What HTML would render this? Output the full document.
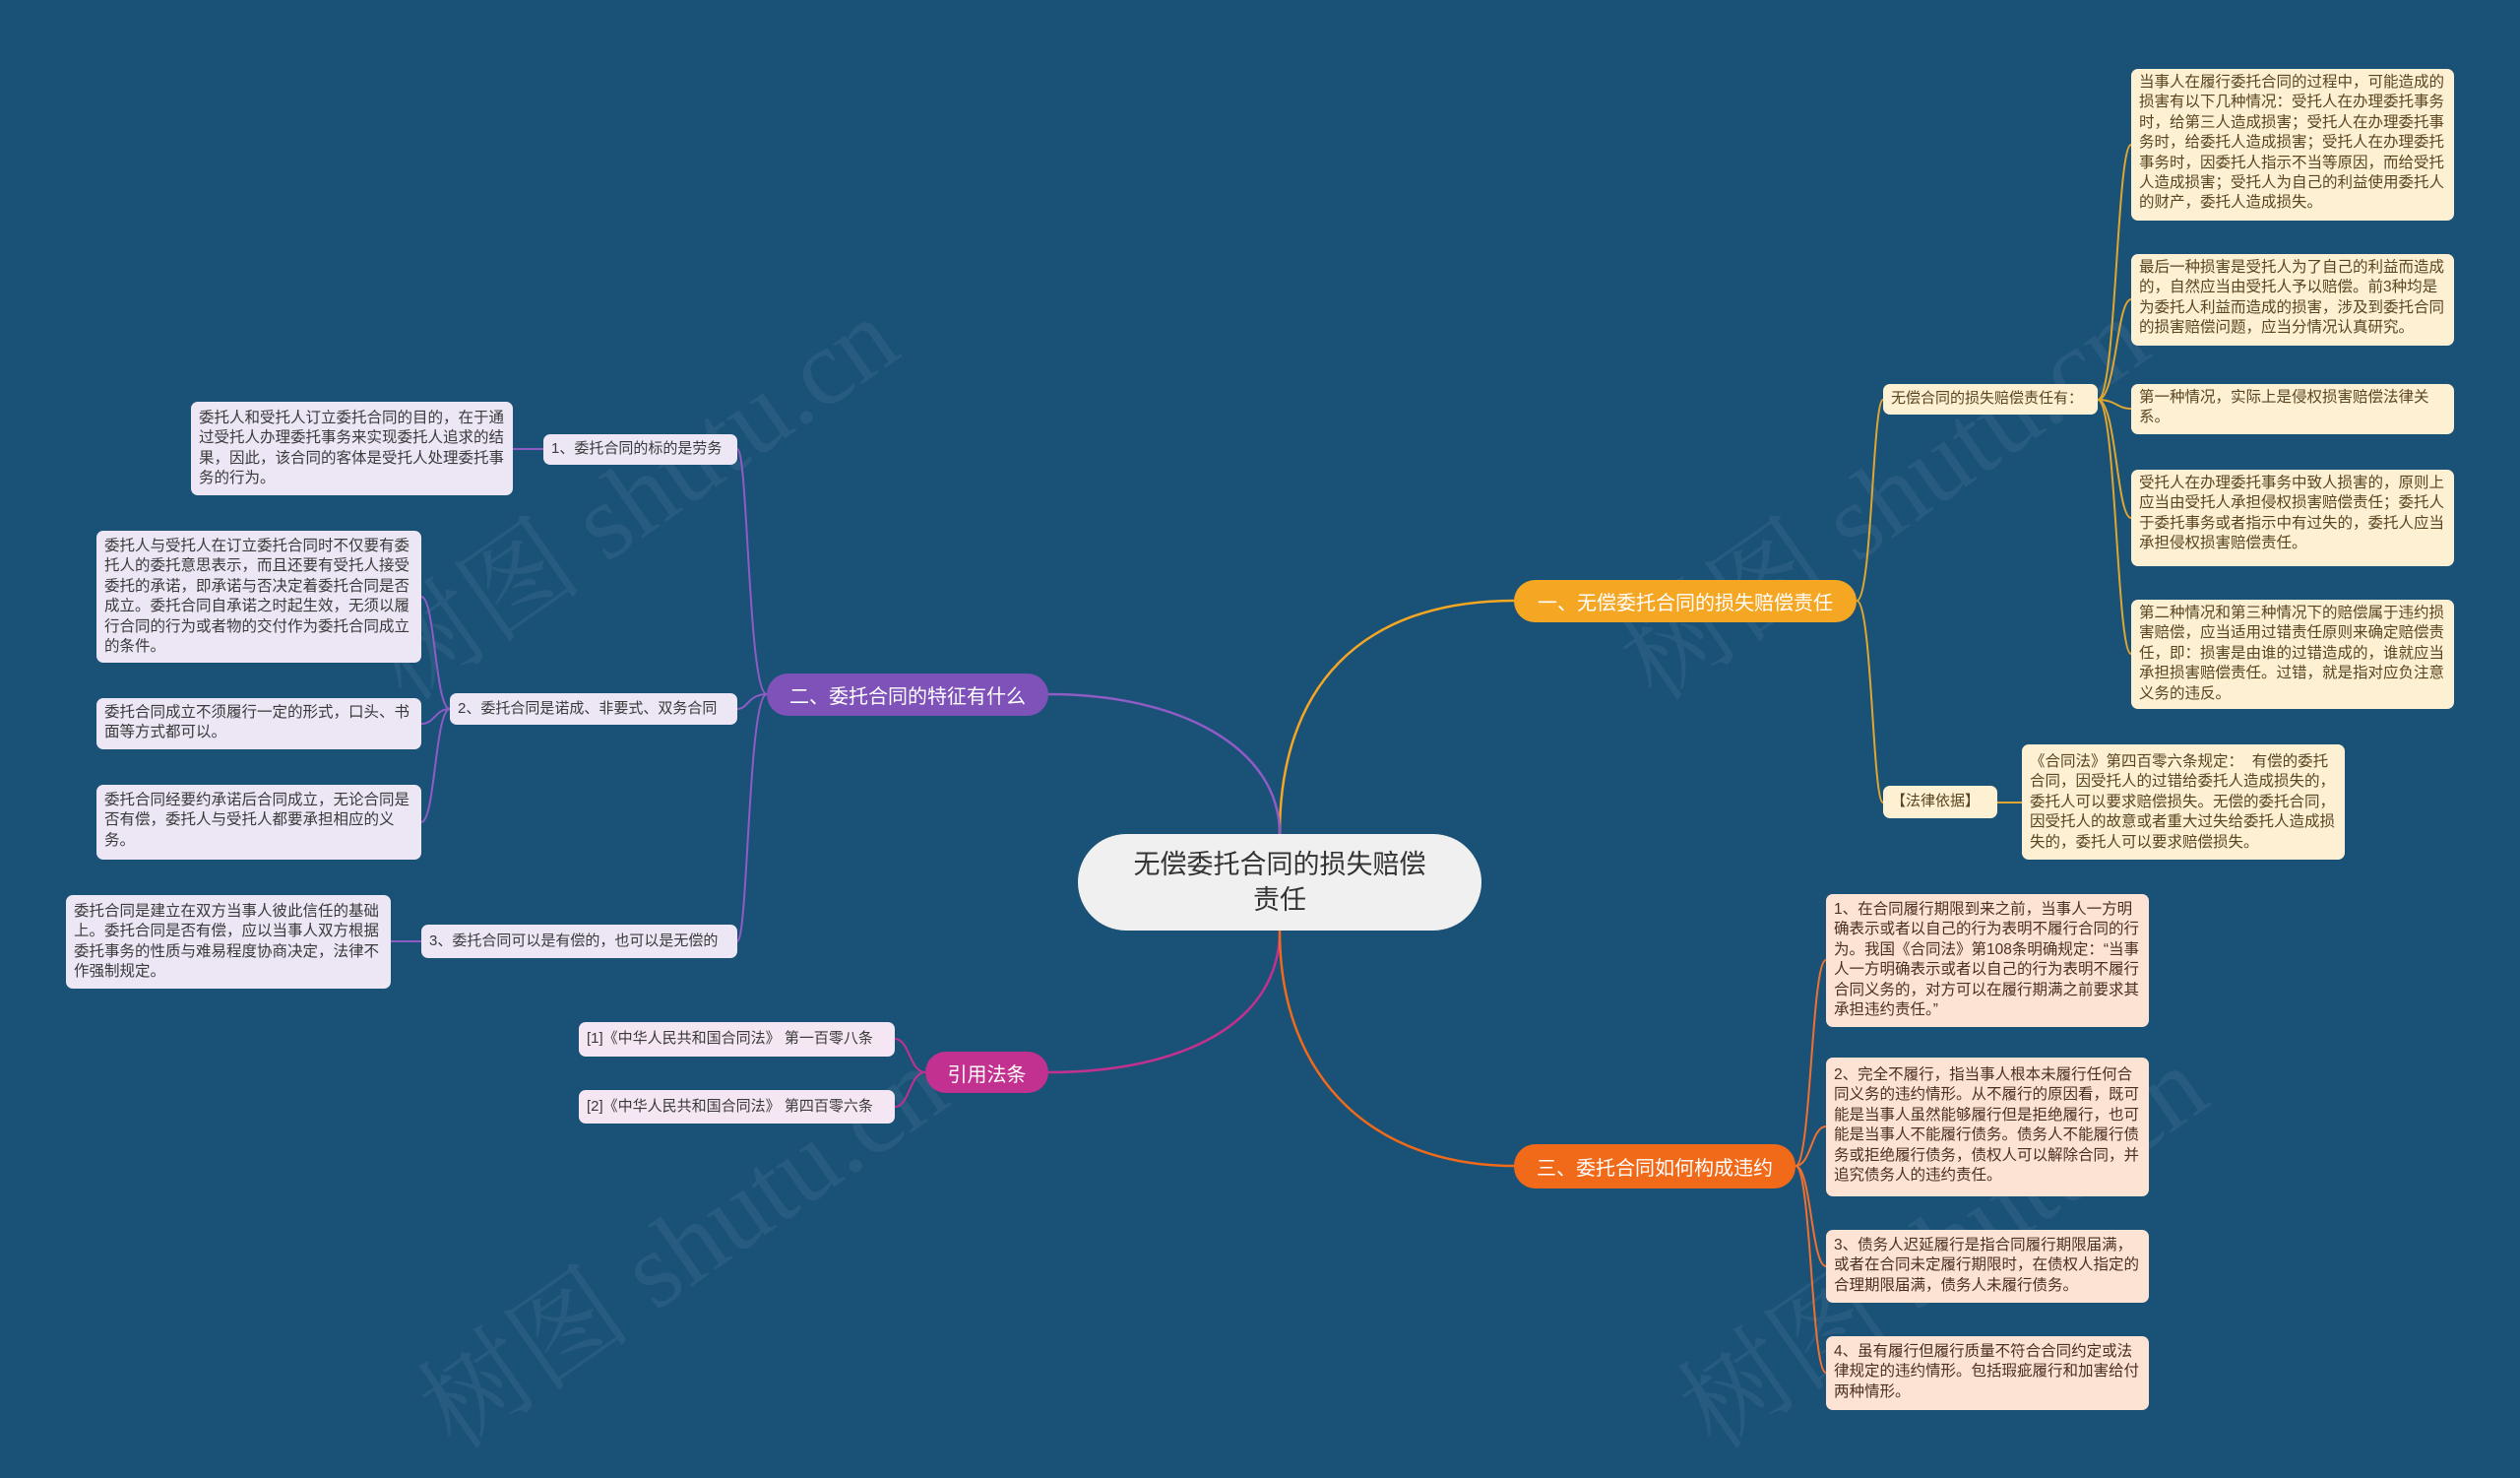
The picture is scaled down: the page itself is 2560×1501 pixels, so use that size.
<!DOCTYPE html>
<html style="width:2560px;height:1501px;overflow:hidden"><head><meta charset="utf-8">
<style>
html,body{margin:0;padding:0}
body{width:2560px;height:1501px;background:#1a5177;position:relative;overflow:hidden;font-family:"Liberation Sans","Noto Sans CJK SC",sans-serif}
.n{position:absolute;box-sizing:border-box;border-radius:7px;color:#3a3a3a;font-size:15.5px;line-height:20.4px;padding:4px 8px;overflow:hidden}
.c{display:flex;align-items:center}
.y{background:#fdf0d3;color:#5a4520}
.o{background:#fde3d3;color:#4a3020}
.p{background:#ece6f5}
.m{background:#f4e6f2}
.b{position:absolute;box-sizing:border-box;border-radius:22px;color:#fff;font-size:20px;display:flex;align-items:center;justify-content:center}
svg{position:absolute;left:0;top:0}
.wm{position:absolute;color:rgba(255,255,255,0.06);font-size:110px;transform:rotate(-35deg);white-space:nowrap;font-family:"Liberation Serif","Noto Serif CJK SC",serif}
#clip{position:absolute;left:0;top:0;width:2560px;height:1501px;overflow:hidden}
</style></head><body>
<div id="clip">
<div class="wm" style="left:330px;top:420px">树图 shutu.cn</div>
<div class="wm" style="left:1600px;top:420px">树图 shutu.cn</div>
<div class="wm" style="left:380px;top:1180px">树图 shutu.cn</div>
<div class="wm" style="left:1660px;top:1180px">树图 shutu.cn</div>
</div>
<svg width="2560" height="1501" fill="none" stroke-width="2.5">
<path d="M1300,847 C1300,700 1380,610 1538,610" stroke="#f5a623"/>
<path d="M1300,847 C1300,760 1200,705 1065,705" stroke="#8e5cc4"/>
<path d="M1300,945 C1300,1040 1200,1089 1065,1089" stroke="#c2318f"/>
<path d="M1300,945 C1300,1100 1400,1184 1538,1184" stroke="#f06a1a"/>
<g stroke="#e0a630" stroke-width="2">
<path d="M1886,610 C1902,610 1902,406 1913,406"/>
<path d="M1886,610 C1902,610 1902,815 1913,815"/>
<path d="M2131,406 C2150,406 2150,147 2165,147"/>
<path d="M2131,406 C2150,406 2150,304 2165,304"/>
<path d="M2131,406 C2150,406 2150,415 2165,415"/>
<path d="M2131,406 C2150,406 2150,526 2165,526"/>
<path d="M2131,406 C2150,406 2150,664 2165,664"/>
<path d="M2029,815 L2054,815"/>
</g>
<g stroke="#f07030" stroke-width="2">
<path d="M1824,1184 C1840,1184 1840,975 1855,975"/>
<path d="M1824,1184 C1840,1184 1840,1144 1855,1144"/>
<path d="M1824,1184 C1840,1184 1840,1286 1855,1286"/>
<path d="M1824,1184 C1840,1184 1840,1394 1855,1394"/>
</g>
<g stroke="#8e5cc4" stroke-width="2">
<path d="M779,705 C760,705 760,456 749,456"/>
<path d="M779,705 C760,705 760,720 749,720"/>
<path d="M779,705 C760,705 760,956 749,956"/>
<path d="M457,720 C442,720 442,606 428,606"/>
<path d="M457,720 C442,720 442,735 428,735"/>
<path d="M457,720 C442,720 442,835 428,835"/>
<path d="M552,456 L521,456"/>
<path d="M428,956 L397,956"/>
</g>
<g stroke="#c2318f" stroke-width="2">
<path d="M940,1089 C924,1089 924,1055 909,1055"/>
<path d="M940,1089 C924,1089 924,1124 909,1124"/>
</g>
</svg>

<div style="position:absolute;left:1095px;top:847px;width:410px;height:98px;background:#f0f0f0;border-radius:49px;display:flex;align-items:center;justify-content:center;text-align:center;font-size:27px;line-height:36px;color:#333"><div style="width:300px">无偿委托合同的损失赔偿责任</div></div>

<div class="b" style="left:1538px;top:589px;width:348px;height:43px;background:#f5a623">一、无偿委托合同的损失赔偿责任</div>
<div class="b" style="left:779px;top:684px;width:286px;height:43px;background:#7e52b8">二、委托合同的特征有什么</div>
<div class="b" style="left:940px;top:1068px;width:125px;height:42px;background:#c2318f">引用法条</div>
<div class="b" style="left:1538px;top:1162px;width:286px;height:45px;background:#f06a1a">三、委托合同如何构成违约</div>

<div class="n y c" style="left:1913px;top:390px;width:218px;height:31px;font-size:15px">无偿合同的损失赔偿责任有：</div>
<div class="n y" style="left:2165px;top:70px;width:328px;height:154px">当事人在履行委托合同的过程中，可能造成的损害有以下几种情况：受托人在办理委托事务时，给第三人造成损害；受托人在办理委托事务时，给委托人造成损害；受托人在办理委托事务时，因委托人指示不当等原因，而给受托人造成损害；受托人为自己的利益使用委托人的财产，委托人造成损失。</div>
<div class="n y" style="left:2165px;top:258px;width:328px;height:93px">最后一种损害是受托人为了自己的利益而造成的，自然应当由受托人予以赔偿。前3种均是为委托人利益而造成的损害，涉及到委托合同的损害赔偿问题，应当分情况认真研究。</div>
<div class="n y" style="left:2165px;top:390px;width:328px;height:51px">第一种情况，实际上是侵权损害赔偿法律关系。</div>
<div class="n y" style="left:2165px;top:477px;width:328px;height:98px">受托人在办理委托事务中致人损害的，原则上应当由受托人承担侵权损害赔偿责任；委托人于委托事务或者指示中有过失的，委托人应当承担侵权损害赔偿责任。</div>
<div class="n y" style="left:2165px;top:609px;width:328px;height:111px">第二种情况和第三种情况下的赔偿属于违约损害赔偿，应当适用过错责任原则来确定赔偿责任，即：损害是由谁的过错造成的，谁就应当承担损害赔偿责任。过错，就是指对应负注意义务的违反。</div>
<div class="n y c" style="left:1913px;top:798px;width:116px;height:33px;font-size:15px">【法律依据】</div>
<div class="n y" style="left:2054px;top:756px;width:328px;height:117px;padding-top:8px">《合同法》第四百零六条规定：&nbsp; 有偿的委托合同，因受托人的过错给委托人造成损失的，委托人可以要求赔偿损失。无偿的委托合同，因受托人的故意或者重大过失给委托人造成损失的，委托人可以要求赔偿损失。</div>

<div class="n o" style="left:1855px;top:908px;width:328px;height:135px;padding-top:6px">1、在合同履行期限到来之前，当事人一方明确表示或者以自己的行为表明不履行合同的行为。我国《合同法》第108条明确规定：“当事人一方明确表示或者以自己的行为表明不履行合同义务的，对方可以在履行期满之前要求其承担违约责任。”</div>
<div class="n o" style="left:1855px;top:1074px;width:328px;height:141px;padding-top:8px">2、完全不履行，指当事人根本未履行任何合同义务的违约情形。从不履行的原因看，既可能是当事人虽然能够履行但是拒绝履行，也可能是当事人不能履行债务。债务人不能履行债务或拒绝履行债务，债权人可以解除合同，并追究债务人的违约责任。</div>
<div class="n o" style="left:1855px;top:1249px;width:328px;height:74px;padding-top:6px">3、债务人迟延履行是指合同履行期限届满，或者在合同未定履行期限时，在债权人指定的合理期限届满，债务人未履行债务。</div>
<div class="n o" style="left:1855px;top:1357px;width:328px;height:75px;padding-top:6px">4、虽有履行但履行质量不符合合同约定或法律规定的违约情形。包括瑕疵履行和加害给付两种情形。</div>

<div class="n p c" style="left:552px;top:441px;width:197px;height:31px;font-size:15px">1、委托合同的标的是劳务</div>
<div class="n p" style="left:194px;top:408px;width:327px;height:95px;padding-top:7px">委托人和受托人订立委托合同的目的，在于通过受托人办理委托事务来实现委托人追求的结果，因此，该合同的客体是受托人处理委托事务的行为。</div>
<div class="n p c" style="left:457px;top:704px;width:292px;height:32px;font-size:15px">2、委托合同是诺成、非要式、双务合同</div>
<div class="n p" style="left:98px;top:539px;width:330px;height:134px;padding-top:6px">委托人与受托人在订立委托合同时不仅要有委托人的委托意思表示，而且还要有受托人接受委托的承诺，即承诺与否决定着委托合同是否成立。委托合同自承诺之时起生效，无须以履行合同的行为或者物的交付作为委托合同成立的条件。</div>
<div class="n p" style="left:98px;top:709px;width:330px;height:52px;padding-top:5px">委托合同成立不须履行一定的形式，口头、书面等方式都可以。</div>
<div class="n p" style="left:98px;top:797px;width:330px;height:76px;padding-top:6px">委托合同经要约承诺后合同成立，无论合同是否有偿，委托人与受托人都要承担相应的义务。</div>
<div class="n p c" style="left:428px;top:939px;width:321px;height:34px;font-size:15px">3、委托合同可以是有偿的，也可以是无偿的</div>
<div class="n p" style="left:67px;top:909px;width:330px;height:95px;padding-top:7px">委托合同是建立在双方当事人彼此信任的基础上。委托合同是否有偿，应以当事人双方根据委托事务的性质与难易程度协商决定，法律不作强制规定。</div>

<div class="n m c" style="left:588px;top:1038px;width:321px;height:35px;font-size:15px">[1]《中华人民共和国合同法》 第一百零八条</div>
<div class="n m c" style="left:588px;top:1107px;width:321px;height:34px;font-size:15px">[2]《中华人民共和国合同法》 第四百零六条</div>
</body></html>
